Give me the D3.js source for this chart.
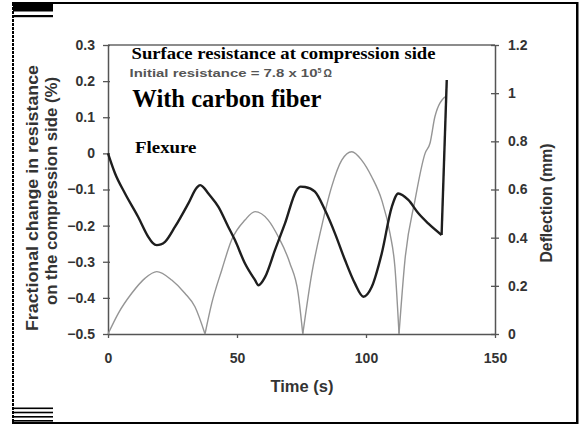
<!DOCTYPE html>
<html>
<head>
<meta charset="utf-8">
<script src="https://cdn.jsdelivr.net/npm/d3@7"></script>
<style>
  body { margin: 0; background: #fff; }
  svg { display: block; }
</style>
</head>
<body>
<div id="chart"></div>
<script>
// resistance (left axis, %)
const resTime = [0, 2.7, 6.6, 11.7, 15.6, 17.3, 18.9, 20.5, 22.1, 26.0, 31.1, 34.5, 35.7, 37.0, 38.9, 42.8, 46.6, 49.2, 53.1, 57.0, 58.3, 60.9, 64.7, 68.6, 73.1, 74.6, 76.4, 80.2, 84.1, 88.0, 91.9, 95.7, 99.0, 102.2, 106.1, 110.0, 112.5, 116.4, 120.3, 124.1, 129.3, 131.3];
const resValue = [0, -0.055, -0.111, -0.176, -0.231, -0.248, -0.254, -0.252, -0.245, -0.203, -0.139, -0.094, -0.088, -0.094, -0.111, -0.148, -0.203, -0.240, -0.305, -0.351, -0.365, -0.342, -0.268, -0.194, -0.102, -0.092, -0.093, -0.106, -0.157, -0.222, -0.296, -0.360, -0.397, -0.370, -0.277, -0.148, -0.111, -0.129, -0.166, -0.194, -0.226, 0.203];

// deflection (right axis, mm)
const defTime = [0, 4.0, 9.2, 14.3, 18.9, 24.7, 29.8, 33.7, 37.6, 40.2, 44.1, 47.9, 53.1, 57.0, 62.1, 66.0, 70.5, 73.7, 75.5, 79.0, 82.8, 86.7, 90.6, 94.5, 98.3, 102.2, 106.1, 109.3, 111.2, 112.8, 115.1, 119.0, 122.9, 124.8, 126.7, 130.6];
const defValue = [0, 0.086, 0.169, 0.231, 0.259, 0.224, 0.169, 0.113, 0, 0.127, 0.266, 0.39, 0.473, 0.508, 0.473, 0.404, 0.294, 0.169, 0, 0.252, 0.446, 0.612, 0.722, 0.757, 0.722, 0.653, 0.556, 0.418, 0.279, 0, 0.307, 0.556, 0.75, 0.792, 0.902, 0.985];

const xTicks = [0, 50, 100, 150];
const leftTicks = [-0.5, -0.4, -0.3, -0.2, -0.1, 0, 0.1, 0.2, 0.3];
const rightTicks = [0, 0.2, 0.4, 0.6, 0.8, 1, 1.2];

const width = 581, height = 426;
const svg = d3.select("#chart").append("svg")
    .attr("width", width).attr("height", height);

const x = d3.scaleLinear().domain([0, 150]).range([108, 495]);
const yL = d3.scaleLinear().domain([-0.5, 0.3]).range([334, 45]);
const yR = d3.scaleLinear().domain([0, 1.2]).range([334, 45]);

// page frame
const frame = svg.append("g").attr("fill", "#000");
frame.append("rect").attr("x", 12).attr("y", 2).attr("width", 566).attr("height", 2);
frame.append("rect").attr("x", 576).attr("y", 2).attr("width", 2.5).attr("height", 422);
frame.append("rect").attr("x", 12).attr("y", 422).attr("width", 566).attr("height", 2);
svg.append("line").attr("x1", 13).attr("x2", 13).attr("y1", 3).attr("y2", 423)
    .attr("stroke", "#000").attr("stroke-width", 2).attr("stroke-dasharray", "3,1");
frame.append("rect").attr("x", 13).attr("y", 4).attr("width", 40).attr("height", 7.5);
frame.append("rect").attr("x", 13).attr("y", 15).attr("width", 40).attr("height", 2.2);
[407.5, 411.7, 416, 420].forEach(yy => {
    frame.append("rect").attr("x", 13).attr("y", yy).attr("width", 40).attr("height", 1.6);
});

const axisColor = "#555";
const textColor = "#333";

const styleAxis = (g) => {
    g.select(".domain").attr("stroke", axisColor).attr("stroke-width", 1.5);
    g.selectAll(".tick line").attr("stroke", axisColor).attr("stroke-width", 1.3);
    g.selectAll(".tick text")
        .attr("fill", textColor)
        .style("font-family", "'Liberation Sans', Arial, sans-serif")
        .style("font-weight", "bold")
        .style("font-size", "14px");
};

// top frame line of plot box
svg.append("line")
    .attr("x1", x(0)).attr("x2", x(150)).attr("y1", yL(0.3)).attr("y2", yL(0.3))
    .attr("stroke", "#666").attr("stroke-width", 1.5);

const gx = svg.append("g").attr("transform", `translate(0,${yL(-0.5)})`)
    .call(d3.axisBottom(x).tickValues(xTicks).tickSize(4).tickPadding(15).tickSizeOuter(0).tickFormat(d3.format("d")));
styleAxis(gx);

const gl = svg.append("g").attr("transform", `translate(${x(0)},0)`)
    .call(d3.axisLeft(yL).tickValues(leftTicks).tickSize(5).tickPadding(8).tickSizeOuter(0)
        .tickFormat(d => d === 0 ? "0" : d3.format(".1f")(d)));
styleAxis(gl);
gl.selectAll(".tick line").attr("x1", 2);

const gr = svg.append("g").attr("transform", `translate(${x(150)},0)`)
    .call(d3.axisRight(yR).tickValues(rightTicks).tickSize(4).tickPadding(9).tickSizeOuter(0)
        .tickFormat(d => (d === 0 || d === 1) ? String(d) : d3.format(".1f")(d)));
styleAxis(gr);
gr.selectAll(".tick line").attr("x1", -4);

// axis titles
const titleFont = (t) => t.attr("fill", textColor)
    .style("font-family", "'Liberation Sans', Arial, sans-serif")
    .style("font-weight", "bold").style("font-size", "16px")
    .attr("text-anchor", "middle").attr("lengthAdjust", "spacingAndGlyphs");

svg.append("text").attr("x", 302).attr("y", 392).attr("textLength", 63)
    .text("Time (s)").call(titleFont);
svg.append("text").attr("transform", "translate(37.5,198) rotate(-90)").attr("textLength", 266)
    .text("Fractional change in resistance").call(titleFont);
svg.append("text").attr("transform", "translate(56.5,191) rotate(-90)").attr("textLength", 228)
    .text("on the compression side (%)").call(titleFont);
svg.append("text").attr("transform", "translate(552,203) rotate(-90)").attr("textLength", 119)
    .text("Deflection (mm)").call(titleFont);

// curves
const defData = defTime.map((t, i) => ({ t, v: defValue[i] }));
const resData = resTime.map((t, i) => ({ t, v: resValue[i] }));

// split the deflection into arches at its zero points so the cusps stay sharp
const arches = [];
let cur = [];
defData.forEach((d, i) => {
    cur.push(d);
    if (d.v === 0 && i > 0) {
        arches.push(cur);
        cur = [d];
    }
});
if (cur.length > 1) arches.push(cur);

const defLine = d3.line().curve(d3.curveMonotoneX).x(d => x(d.t)).y(d => yR(d.v));
svg.append("g").selectAll("path").data(arches).join("path")
    .attr("fill", "none").attr("stroke", "#959595").attr("stroke-width", 1.4)
    .attr("stroke-linejoin", "round")
    .attr("d", defLine);

// resistance: smooth trace, then the final jump as a straight segment
const resLine = d3.line().curve(d3.curveMonotoneX).x(d => x(d.t)).y(d => yL(d.v));
const resG = svg.append("g").attr("fill", "none").attr("stroke", "#1e1e1e")
    .attr("stroke-width", 2.4).attr("stroke-linejoin", "round");
resG.append("path").datum(resData.slice(0, -1)).attr("d", resLine);
resG.append("path").datum(resData.slice(-2)).attr("d", d3.line().x(d => x(d.t)).y(d => yL(d.v)));

// annotations
const serif = "'Liberation Serif', 'Times New Roman', serif";
svg.append("text").attr("x", 131.5).attr("y", 59.3).attr("textLength", 304).attr("lengthAdjust", "spacingAndGlyphs")
    .style("font-family", serif).style("font-weight", "bold").style("font-size", "16.5px")
    .text("Surface resistance at compression side");

const init = svg.append("text").attr("x", 129.5).attr("y", 76.7).attr("fill", "#555")
    .style("font-family", "'Liberation Sans', Arial, sans-serif").style("font-weight", "bold").style("font-size", "10.5px");
init.append("tspan").attr("textLength", 188).attr("lengthAdjust", "spacingAndGlyphs").text("Initial resistance = 7.8 x 10");
init.append("tspan").attr("dy", -4).style("font-size", "7px").text("5");
init.append("tspan").attr("dy", 4).attr("dx", 2).text("Ω");

svg.append("text").attr("x", 132.3).attr("y", 107.3).attr("textLength", 189).attr("lengthAdjust", "spacingAndGlyphs")
    .style("font-family", serif).style("font-weight", "bold").style("font-size", "25.5px")
    .text("With carbon fiber");

svg.append("text").attr("x", 135).attr("y", 153.3).attr("textLength", 61.5).attr("lengthAdjust", "spacingAndGlyphs")
    .style("font-family", serif).style("font-weight", "bold").style("font-size", "17px")
    .text("Flexure");
</script>
</body>
</html>
